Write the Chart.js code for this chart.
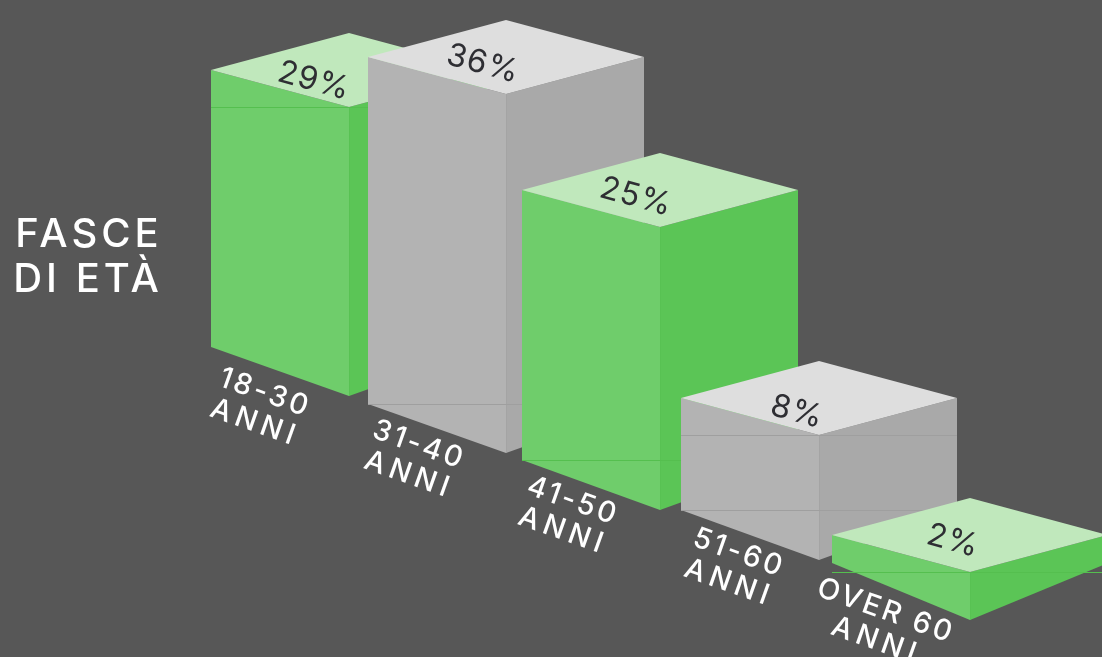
<!DOCTYPE html>
<html>
<head>
<meta charset="utf-8">
<title>Fasce di età</title>
<script src="https://cdn.jsdelivr.net/npm/chart.js@4/dist/chart.umd.min.js"></script>
<style>
  html, body { margin: 0; padding: 0; background: #575757; overflow: hidden; }
  canvas { display: block; }
</style>
</head>
<body>
<canvas id="chartEta" width="1102" height="657"></canvas>
<script>
// Data
const categories = [["18-30", "ANNI"], ["31-40", "ANNI"], ["41-50", "ANNI"], ["51-60", "ANNI"], ["OVER 60", "ANNI"]];
const percentLabels = ["29%", "36%", "25%", "8%", "2%"];
const titleLines = ["FASCE", "DI ETÀ"];
// the drawn heights are not proportional to the printed percentages,
// so each bar keeps its own floor and top level
const barFloors = [31.0, 25.3, 19.7, 14.7, 9.4];
const barTops = [58.7, 60.0, 46.7, 25.9, 12.2];
const barSlots = [28.0, 43.7, 59.1, 75.0, 90.1];

// Look of the isometric boxes
const green = { left: "#6fcd6b", right: "#5bc556", top: "#c0e8bc", seam: "#55bf4f" };
const grey = { left: "#b3b3b3", right: "#a9a9a9", top: "#dedede", seam: "#9f9f9f" };
const palette = [green, grey, green, grey, green];
const topDrop = 37;
const floorDrops = [49, 49, 50, 50, 57];
const seamAtTop = [true, false, false, true, true];
const seamAtFloor = [false, true, true, true, false];
const percentOffsets = [[-35, 11], [-23, 7], [-24, 7], [-22, 14], [-17, 6]];
const labelOffsets = [[54, 46], [51, 41], [51, 41], [58, 43], [54, 48]];
const labelFont = '500 29px Inter';
const percentFont = '400 32px Inter';
const titleFont = '500 40px Inter';

function face(ctx, color, points) {
  ctx.fillStyle = color;
  ctx.beginPath();
  points.forEach(function (p, i) {
    if (i === 0) ctx.moveTo(p[0], p[1]);
    else ctx.lineTo(p[0], p[1]);
  });
  ctx.closePath();
  ctx.fill();
}

function seam(ctx, color, x1, x2, y) {
  ctx.strokeStyle = color;
  ctx.lineWidth = 1;
  ctx.beginPath();
  ctx.moveTo(x1, Math.round(y) + 0.5);
  ctx.lineTo(x2, Math.round(y) + 0.5);
  ctx.stroke();
}

function rotatedText(ctx, text, x, y, slope, font, color, spacing) {
  ctx.save();
  ctx.translate(x, y);
  ctx.rotate(slope);
  ctx.font = font;
  ctx.fillStyle = color;
  ctx.letterSpacing = spacing;
  ctx.textAlign = "center";
  ctx.textBaseline = "middle";
  ctx.fillText(text, 0, 0);
  ctx.restore();
}

// Draws the three faces of every bar from the positions the bar elements got from the scales
const isoBoxes = {
  id: "isoBoxes",
  afterDatasetsDraw: function (chart) {
    const ctx = chart.ctx;
    const bars = chart.getDatasetMeta(0).data;

    bars.forEach(function (bar, i) {
      const c = palette[i];
      const half = bar.width / 2;
      const x1 = bar.x - half;
      const x2 = bar.x + half;
      const x3 = bar.x + half * 3;
      const top = bar.y;
      const floor = bar.base;
      const midTop = top + topDrop;
      const midFloor = floor + floorDrops[i];

      face(ctx, c.left, [[x1, top], [x2, midTop], [x2, midFloor], [x1, floor]]);
      face(ctx, c.right, [[x2, midTop], [x3, top], [x3, floor], [x2, midFloor]]);
      face(ctx, c.top, [[x1, top], [x2, top - topDrop], [x3, top], [x2, midTop]]);

      // thin seams left in the artwork
      if (seamAtTop[i]) seam(ctx, c.seam, x1, x3, midTop);
      if (seamAtFloor[i]) seam(ctx, c.seam, x1, x3, floor);
      ctx.strokeStyle = c.seam;
      ctx.globalAlpha = 0.5;
      ctx.beginPath();
      ctx.moveTo(x2 + 0.5, midTop);
      ctx.lineTo(x2 + 0.5, midFloor);
      ctx.stroke();
      ctx.globalAlpha = 1;

      rotatedText(ctx, percentLabels[i], x2 + percentOffsets[i][0], top + percentOffsets[i][1],
        Math.atan2(topDrop, half * 2), percentFont, "#2e2e33", "1px");

      // category label under the left face
      const slope = Math.atan2(floorDrops[0], half * 2);
      const lx = x1 + labelOffsets[i][0];
      const ly = floor + labelOffsets[i][1];
      rotatedText(ctx, categories[i][0], lx, ly, slope, labelFont, "#ffffff", "3px");
      rotatedText(ctx, categories[i][1], lx - 10, ly + 30, slope, labelFont, "#ffffff", "5px");
    });

    // heading on the left
    ctx.save();
    ctx.font = titleFont;
    ctx.fillStyle = "#ffffff";
    ctx.letterSpacing = "4px";
    ctx.textAlign = "center";
    ctx.textBaseline = "middle";
    ctx.fillText(titleLines[0], 89, 235);
    ctx.fillText(titleLines[1], 88, 280);
    ctx.restore();
  },
};

document.addEventListener("DOMContentLoaded", function () {
  const ctx = document.getElementById("chartEta").getContext("2d");
  new Chart(ctx, {
    type: "bar",
    data: {
      labels: categories,
      datasets: [
        {
          label: "Fasce di età",
          data: barSlots.map(function (slot, i) {
            return { x: slot, y: [barFloors[i], barTops[i]] };
          }),
          backgroundColor: "transparent",
          barThickness: 138,
        },
      ],
    },
    options: {
      responsive: false,
      animation: false,
      layout: { padding: 0 },
      scales: {
        x: { type: "linear", display: false, offset: false, min: 0, max: 110.2 },
        y: { display: false, min: 0, max: 65.7 },
      },
      plugins: {
        legend: { display: false },
        tooltip: { enabled: false },
      },
    },
    plugins: [isoBoxes],
  });
});
</script>
</body>
</html>
